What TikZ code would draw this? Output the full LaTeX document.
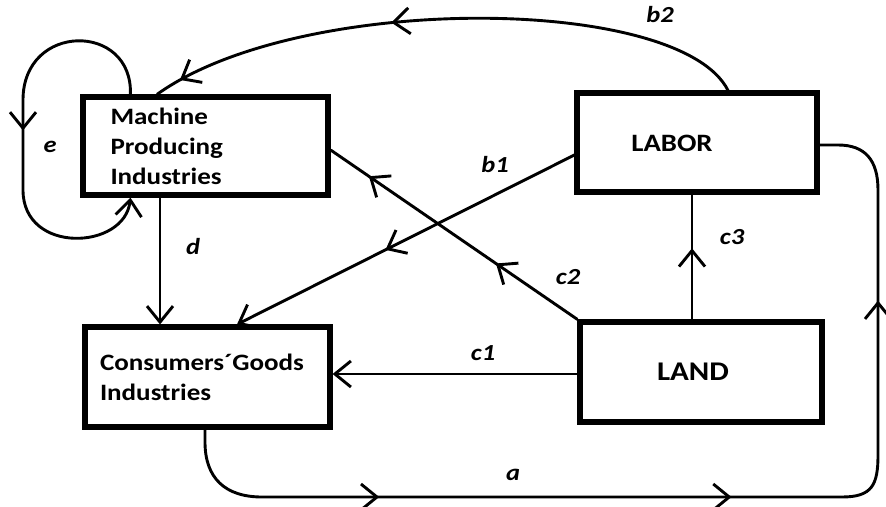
\documentclass[tikz,border=0pt]{standalone}
\usepackage{fontspec}
\setmainfont{Carlito}
\newfontfamily\boxfont[FakeStretch=1.15]{Carlito}
\usetikzlibrary{arrows.meta,decorations.markings}
\tikzset{
  barb/.tip={Straight Barb[length=16pt,width=26pt,line width=2.9pt]},
  box/.style={draw, line width=5.2pt, inner sep=0pt, align=left,
    font=\boxfont\bfseries\fontsize{23.5}{30}\selectfont},
  boxtext/.style={inner sep=0pt, font=\boxfont\bfseries\fontsize{25}{30}\selectfont},
  conn/.style={line width=2.9pt},
  lbl/.style={inner sep=0pt, font=\boxfont\bfseries\itshape\fontsize{23}{26}\selectfont},
  marrow/.style={postaction={decorate, decoration={markings,
      mark=at position #1 with {\arrow{barb}}}}}
}
\begin{document}
\begin{tikzpicture}[x=1pt,y=-1pt]
\useasboundingbox[fill=white] (0,0) rectangle (886,506);
% boxes
\node[box, minimum width=245pt, minimum height=98pt, text width=190pt] (mach) at (205.5,146)
  {Machine\\Producing\\Industries};
\node[box, minimum width=245pt, minimum height=100pt, text width=215pt] (cons) at (207.5,377)
  {Consumers´Goods\\Industries};
\node[box, minimum width=240pt, minimum height=99pt] (labor) at (697,142.5) {};
\node[boxtext] (laborT) at (672,143) {LABOR};
\node[box, minimum width=242pt, minimum height=100pt] (land) at (701,372) {};
\node[boxtext, font=\boxfont\bfseries\fontsize{27}{30}\selectfont] (landT) at (693,372) {LAND};
% e loop
\draw[conn, -barb, marrow=0.49] ([xshift=50pt]mach.north west) .. controls (133,22) and (23,22) .. (23,100)
  -- (23,190) .. controls (23,255) and (125,250) .. ([xshift=50pt]mach.south west);
% d
\draw[conn, -barb] ([xshift=-45.5pt]mach.south) -- ([xshift=-47.5pt]cons.north);
% b2
\draw[conn, marrow=0.59, marrow=0.955] ([xshift=31pt]labor.north) .. controls (680,-5) and (300,-8) .. ([xshift=-48.5pt]mach.north);
% b1
\draw[conn, -barb, marrow=0.56] ([yshift=-12.5pt]labor.west) -- ([xshift=29.5pt]cons.north);
% c2
\draw[conn, marrow=0.33, marrow=0.845] (land.north west) -- ([yshift=-4pt]mach.east);
% c3
\draw[conn, marrow=0.57] ([xshift=-9pt]land.north) -- ([xshift=-9pt]land.north |- labor.south);
% c1
\draw[conn, -barb] ([yshift=-2pt]land.west) -- ([yshift=-2pt]land.west -| cons.east);
% a
\draw[conn, marrow=0.2, marrow=0.52, marrow=0.82] ([xshift=-2.5pt]cons.south) -- (205,442)
  .. controls (205,478) and (225,497) .. (262,497) -- (842,497)
  .. controls (872,497) and (878,485) .. (878,455) -- (878,190)
  .. controls (878,160) and (865,145) .. (838,145) -- ([yshift=-2.5pt]labor.east);
% labels
\node[lbl] (lb2) at (660,15) {b2};
\node[lbl] (lb1) at (495,165) {b1};
\node[lbl] (lc2) at (568,277) {c2};
\node[lbl] (lc3) at (732,237) {c3};
\node[lbl] (lc1) at (483,353) {c1};
\node[lbl] (ld) at (193,247) {d};
\node[lbl] (le) at (50,147) {e};
\node[lbl] (la) at (513,475) {a};
\end{tikzpicture}
\end{document}
